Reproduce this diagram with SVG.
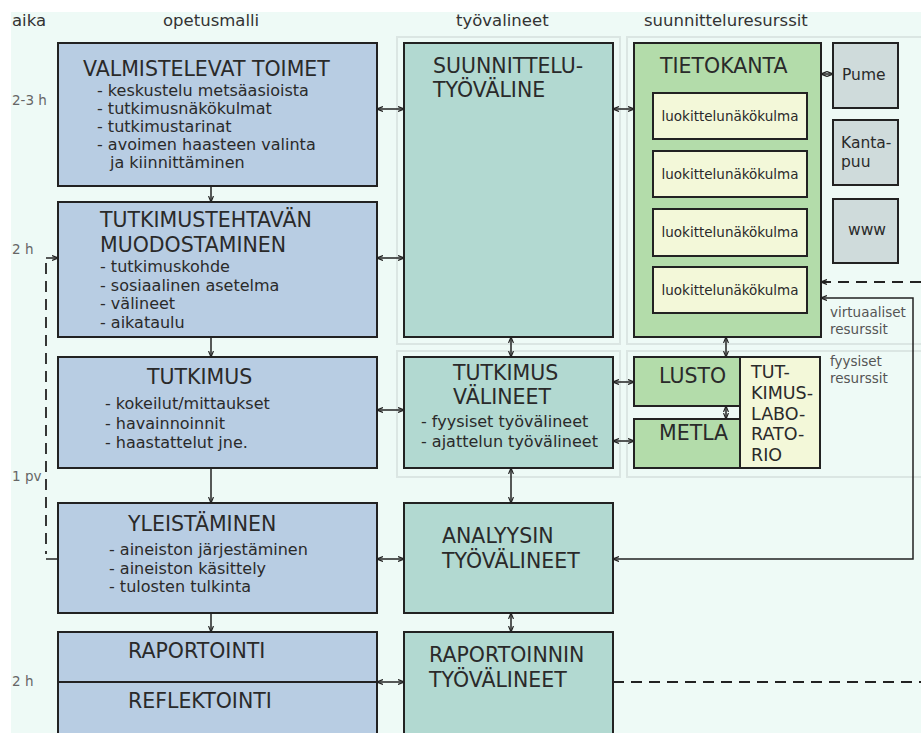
<svg xmlns="http://www.w3.org/2000/svg" width="921" height="733" viewBox="0 0 921 733">
<style>
text{font-family:"DejaVu Sans",Verdana,sans-serif;fill:#2a2a2a}
.hd{font-size:16.5px;fill:#333}
.tm{font-size:13.5px;fill:#666}
.tt{font-size:20.5px}
.bl{font-size:16px}
.lk{font-size:13.5px;text-anchor:middle}
.sm{font-size:15.5px}
.rs{font-size:13.5px;fill:#555}
.lab{font-size:17.5px}
.box{stroke:#222;stroke-width:2}
.blue{fill:#b8cde3}
.teal{fill:#b2d9d1}
.green{fill:#b3dcaa}
.yel{fill:#f3f8d9}
.gray{fill:#cfdbdb}
.panel{fill:none;stroke:#dbe6e3;stroke-width:2}
.c{fill:none;stroke:#222;stroke-width:1.5}
.d{fill:none;stroke:#222;stroke-width:1.8;stroke-dasharray:11 7}
</style>
<defs>
<marker id="a" viewBox="0 0 6 6" refX="6" refY="3" markerWidth="6" markerHeight="6" orient="auto-start-reverse" markerUnits="userSpaceOnUse"><path d="M0,0.5 L6,3 L0,5.5" fill="none" stroke="#222" stroke-width="1.2"/></marker>
</defs>
<rect x="0" y="0" width="921" height="733" fill="#fff"/>
<rect x="11" y="12" width="910" height="721" fill="#eefaf6"/>
<g id="headers">
<text class="hd" x="12" y="26">aika</text>
<text class="hd" x="163" y="26">opetusmalli</text>
<text class="hd" x="456" y="26">työvalineet</text>
<text class="hd" x="644" y="26">suunnitteluresurssit</text>
<text class="tm" x="12" y="105">2-3 h</text>
<text class="tm" x="12" y="254">2 h</text>
<text class="tm" x="12" y="481">1 pv</text>
<text class="tm" x="12" y="686">2 h</text>
</g>
<g id="panels">
<rect class="panel" x="397" y="37" width="223" height="307"/>
<rect class="panel" x="627" y="37" width="300" height="307"/>
<rect class="panel" x="397" y="351" width="223" height="126"/>
<rect class="panel" x="627" y="351" width="300" height="126"/>
</g>
<g id="valmistelevat">
<rect class="box blue" x="58" y="43" width="319" height="143"/>
<text class="tt" x="83" y="76">VALMISTELEVAT TOIMET</text>
<text class="bl" x="97" y="96">- keskustelu metsäasioista</text>
<text class="bl" x="97" y="114">- tutkimusnäkökulmat</text>
<text class="bl" x="97" y="132">- tutkimustarinat</text>
<text class="bl" x="97" y="150">- avoimen haasteen valinta</text>
<text class="bl" x="110" y="168">ja kiinnittäminen</text>
</g>
<g id="tutkimustehtavan">
<rect class="box blue" x="58" y="202" width="319" height="135"/>
<text class="tt" x="100" y="227">TUTKIMUSTEHTAVÄN</text>
<text class="tt" x="100" y="252">MUODOSTAMINEN</text>
<text class="bl" x="100" y="272">- tutkimuskohde</text>
<text class="bl" x="100" y="290.5">- sosiaalinen asetelma</text>
<text class="bl" x="100" y="309">- välineet</text>
<text class="bl" x="100" y="327.5">- aikataulu</text>
</g>
<g id="tutkimus">
<rect class="box blue" x="58" y="357" width="319" height="111"/>
<text class="tt" x="147" y="384">TUTKIMUS</text>
<text class="bl" x="105" y="409">- kokeilut/mittaukset</text>
<text class="bl" x="105" y="428.5">- havainnoinnit</text>
<text class="bl" x="105" y="448">- haastattelut jne.</text>
</g>
<g id="yleistaminen">
<rect class="box blue" x="58" y="503" width="319" height="110"/>
<text class="tt" x="128" y="531">YLEISTÄMINEN</text>
<text class="bl" x="109" y="555">- aineiston järjestäminen</text>
<text class="bl" x="109" y="573.5">- aineiston käsittely</text>
<text class="bl" x="109" y="592">- tulosten tulkinta</text>
</g>
<g id="raportointi">
<rect class="box blue" x="58" y="632" width="319" height="110"/>
<line class="box" x1="58" y1="682" x2="377" y2="682"/>
<text class="tt" x="128" y="658">RAPORTOINTI</text>
<text class="tt" x="128" y="708">REFLEKTOINTI</text>
</g>
<g id="suunnittelutyovaline">
<rect class="box teal" x="404" y="43" width="209" height="294"/>
<text class="tt" x="433" y="73">SUUNNITTELU-</text>
<text class="tt" x="433" y="97">TYÖVÄLINE</text>
</g>
<g id="tutkimusvalineet">
<rect class="box teal" x="404" y="357" width="209" height="111"/>
<text class="tt" x="453" y="380">TUTKIMUS</text>
<text class="tt" x="453" y="404">VÄLINEET</text>
<text class="bl" x="421" y="427">- fyysiset työvälineet</text>
<text class="bl" x="421" y="447">- ajattelun työvälineet</text>
</g>
<g id="analyysin">
<rect class="box teal" x="404" y="503" width="209" height="110"/>
<text class="tt" x="442" y="543">ANALYYSIN</text>
<text class="tt" x="442" y="568">TYÖVÄLINEET</text>
</g>
<g id="raportoinnin">
<rect class="box teal" x="404" y="632" width="209" height="110"/>
<text class="tt" x="429" y="662">RAPORTOINNIN</text>
<text class="tt" x="429" y="687">TYÖVÄLINEET</text>
</g>
<g id="tietokanta">
<rect class="box green" x="634" y="43" width="187" height="294"/>
<text class="tt" x="660" y="73">TIETOKANTA</text>
<rect class="box yel" x="653" y="93" width="154" height="46"/>
<text class="lk" x="730" y="120.5">luokittelunäkökulma</text>
<rect class="box yel" x="653" y="151" width="154" height="46"/>
<text class="lk" x="730" y="178.5">luokittelunäkökulma</text>
<rect class="box yel" x="653" y="209" width="154" height="47"/>
<text class="lk" x="730" y="237">luokittelunäkökulma</text>
<rect class="box yel" x="653" y="267" width="154" height="46"/>
<text class="lk" x="730" y="294.5">luokittelunäkökulma</text>
</g>
<g id="pume">
<rect class="box gray" x="833" y="43" width="65" height="65"/>
<text class="sm" x="842" y="80">Pume</text>
</g>
<g id="kantapuu">
<rect class="box gray" x="833" y="120" width="65" height="65"/>
<text class="sm" x="841" y="148">Kanta-</text>
<text class="sm" x="841" y="167">puu</text>
</g>
<g id="www">
<rect class="box gray" x="833" y="199" width="65" height="64"/>
<text class="sm" x="848" y="235">www</text>
</g>
<g id="lusto">
<rect class="box green" x="634" y="357" width="106" height="49"/>
<text class="tt" x="659" y="383">LUSTO</text>
</g>
<g id="metla">
<rect class="box green" x="634" y="419" width="106" height="49"/>
<text class="tt" x="659" y="440">METLA</text>
</g>
<g id="tutkimuslaboratorio">
<rect class="box yel" x="740" y="357" width="80" height="111"/>
<text class="lab" x="751" y="378">TUT-</text>
<text class="lab" x="751" y="399">KIMUS-</text>
<text class="lab" x="751" y="420">LABO-</text>
<text class="lab" x="751" y="440">RATO-</text>
<text class="lab" x="751" y="461">RIO</text>
</g>
<g id="resource-labels">
<text class="rs" x="830" y="317">virtuaaliset</text>
<text class="rs" x="830" y="334">resurssit</text>
<text class="rs" x="830" y="366">fyysiset</text>
<text class="rs" x="830" y="383">resurssit</text>
</g>
<g id="connectors">
<path class="c" d="M211,186 V202" marker-end="url(#a)"/>
<path class="c" d="M211,337 V357" marker-end="url(#a)"/>
<path class="c" d="M211,468 V503" marker-end="url(#a)"/>
<path class="c" d="M211,613 V632" marker-end="url(#a)"/>
<path class="c" d="M377,109 H404" marker-start="url(#a)" marker-end="url(#a)"/>
<path class="c" d="M377,258 H404" marker-start="url(#a)" marker-end="url(#a)"/>
<path class="c" d="M377,410 H404" marker-start="url(#a)" marker-end="url(#a)"/>
<path class="c" d="M377,559 H404" marker-start="url(#a)" marker-end="url(#a)"/>
<path class="c" d="M377,682 H404" marker-start="url(#a)" marker-end="url(#a)"/>
<path class="c" d="M613,109 H634" marker-start="url(#a)" marker-end="url(#a)"/>
<path class="c" d="M821,74 H833" marker-start="url(#a)" marker-end="url(#a)"/>
<path class="c" d="M511,337 V357" marker-start="url(#a)" marker-end="url(#a)"/>
<path class="c" d="M726,337 V357" marker-start="url(#a)" marker-end="url(#a)"/>
<path class="c" d="M613,382 H634" marker-start="url(#a)" marker-end="url(#a)"/>
<path class="c" d="M613,441 H634" marker-start="url(#a)" marker-end="url(#a)"/>
<path class="c" d="M726,406 V419" marker-start="url(#a)" marker-end="url(#a)"/>
<path class="c" d="M511,468 V503" marker-start="url(#a)" marker-end="url(#a)"/>
<path class="c" d="M511,613 V632" marker-start="url(#a)" marker-end="url(#a)"/>
<path class="c" d="M613,559 H913 V298 H821" marker-start="url(#a)" marker-end="url(#a)"/>
<path class="d" d="M921,282 H823"/>
<path class="c" d="M826,282 H821" marker-end="url(#a)"/>
<path class="d" d="M613,682 H921"/>
<path class="c" d="M46,258 H58" marker-end="url(#a)"/>
<path class="d" d="M46,263 V554"/>
<path class="c" d="M46,559 H58"/>
</g>
</svg>
